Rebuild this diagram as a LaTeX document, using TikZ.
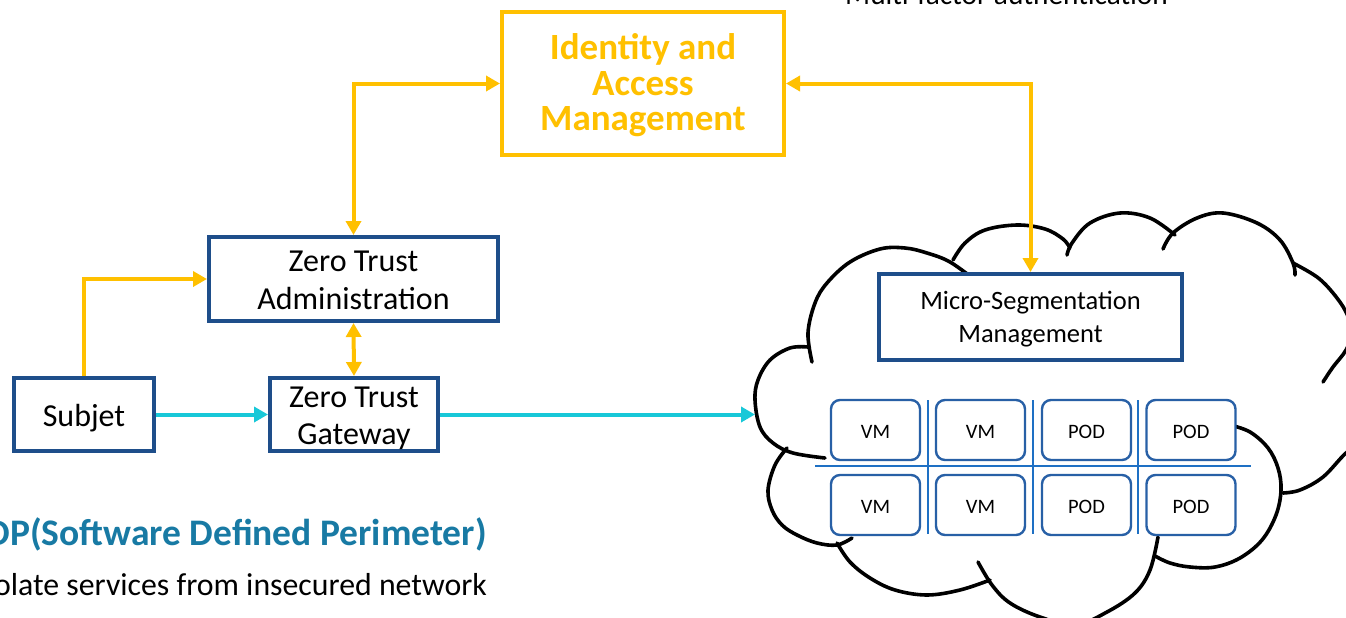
\documentclass[tikz,border=0pt]{standalone}
\usepackage{fontspec}
\setmainfont{Carlito}
\usetikzlibrary{arrows.meta}
\definecolor{gold}{RGB}{255,192,0}
\definecolor{boxblue}{RGB}{30,78,138}
\definecolor{cellblue}{RGB}{40,96,166}
\definecolor{sepblue}{RGB}{30,112,196}
\definecolor{cyanline}{RGB}{24,200,216}
\definecolor{titleblue}{RGB}{24,122,164}
\begin{document}
\begin{tikzpicture}[x=1pt,y=-1pt,
  bluebox/.style={draw=boxblue, line width=4pt, fill=white, inner sep=0pt},
  boxtext/.style={align=center, inner sep=0pt, text=black, yshift=-2.5pt},
  cell/.style={draw=cellblue, line width=2.4pt, rounded corners=9pt, fill=white, minimum width=89pt, minimum height=60pt, inner sep=0pt},
  celltext/.style={inner sep=0pt, text=black, yshift=-1.5pt, font=\fontsize{20.5}{24}\selectfont},
  goldone/.style={draw=gold, line width=4pt, -{Triangle[length=14pt,width=15pt]}},
  goldtwo/.style={draw=gold, line width=4pt, {Triangle[length=14pt,width=15pt]}-{Triangle[length=14pt,width=15pt]}},
  cyanone/.style={draw=cyanline, line width=4pt, -{Triangle[length=14pt,width=15pt]}},
  cloudline/.style={draw=black, line width=3.6pt, line cap=round},
  sepline/.style={draw=sepblue, line width=2.2pt},
  plain/.style={inner sep=0pt, text=black}
]
\useasboundingbox (0,0) rectangle (1346,618);
\clip (0,0) rectangle (1346,618);
\fill[white] (0,0) rectangle (1346,618);

% cloud bumps
\draw[cloudline] plot[smooth, tension=0.6] coordinates {(812,362) (808,333) (815,303) (827,283) (850,262) (880,249) (905,248) (927,253) (950,262) (975,280)};
\draw[cloudline] plot[smooth, tension=0.6] coordinates {(808,347) (790,348) (770,360) (758,380) (755,400) (760,427) (773,443) (793,453) (825,458)};
\draw[cloudline] plot[smooth, tension=0.6] coordinates {(787,448) (775,465) (768,490) (772,510) (782,525) (797,535) (817,543) (837,545) (852,538)};
\draw[cloudline] plot[smooth, tension=0.6] coordinates {(837,543) (850,562) (870,578) (895,590) (927,595) (960,590) (990,580)};
\draw[cloudline] plot[smooth, tension=0.6] coordinates {(978,562) (992,585) (1010,603) (1040,617) (1075,625) (1107,612) (1135,593) (1150,570) (1158,537)};
\draw[cloudline] plot[smooth, tension=0.6] coordinates {(1230,425) (1250,432) (1268,448) (1278,468) (1281,490) (1276,515) (1262,540) (1240,558) (1215,567) (1190,567) (1170,563) (1155,556)};
\draw[cloudline] plot[smooth, tension=0.6] coordinates {(1365,440) (1346,453) (1323,477) (1300,490) (1283,493)};
\draw[cloudline] plot[smooth, tension=0.6] coordinates {(1293,263) (1317,277) (1333,293) (1346,312) (1352,332) (1346,350) (1333,367) (1323,382)};
\draw[cloudline] plot[smooth, tension=0.6] coordinates {(1163,249) (1173,233) (1197,218) (1223,213) (1257,223) (1280,240) (1293,263) (1295,275)};
\draw[cloudline] plot[smooth, tension=0.6] coordinates {(1067,255) (1072,243) (1090,223) (1120,213) (1150,218) (1175,235)};
\draw[cloudline] plot[smooth, tension=0.6] coordinates {(953,260) (965,243) (985,230) (1017,225) (1045,229) (1063,239) (1070,248)};

% boxes
\node[draw=gold, line width=4pt, fill=white, minimum width=282pt, minimum height=143pt, inner sep=0pt,
  label={[boxtext, yshift=0.5pt, text=gold, font=\bfseries\fontsize{37}{35.5}\selectfont]center:{Identity and\\Access\\Management}}] (iam) at (643,83.5) {};
\node[bluebox, minimum width=289pt, minimum height=84pt,
  label={[boxtext, yshift=1pt, font=\fontsize{32}{38}\selectfont]center:{Zero Trust\\Administration}}] (zta) at (353.5,279) {};
\node[bluebox, minimum width=140pt, minimum height=73pt,
  label={[boxtext, yshift=-1pt, font=\fontsize{32}{38}\selectfont]center:{Subjet}}] (subj) at (84,414.5) {};
\node[bluebox, minimum width=168pt, minimum height=73pt,
  label={[boxtext, yshift=-1pt, font=\fontsize{32}{37}\selectfont]center:{Zero Trust\\Gateway}}] (ztg) at (354,414.5) {};
\node[bluebox, minimum width=303pt, minimum height=86pt,
  label={[boxtext, font=\fontsize{26.5}{33}\selectfont]center:{Micro-Segmentation\\Management}}] (msm) at (1030.5,317) {};

% grid of VM / POD
\draw[sepline] (815,466) -- (1251,466);
\draw[sepline] (928,400) -- (928,534);
\draw[sepline] (1033,400) -- (1033,534);
\draw[sepline] (1138,400) -- (1138,534);
\node[cell, label={[celltext]center:VM}] (vm1) at (875.5,430) {};
\node[cell, label={[celltext]center:VM}] (vm2) at (980.5,430) {};
\node[cell, label={[celltext]center:POD}] (pod1) at (1086.5,430) {};
\node[cell, label={[celltext]center:POD}] (pod2) at (1191,430) {};
\node[cell, label={[celltext]center:VM}] (vm3) at (875.5,505) {};
\node[cell, label={[celltext]center:VM}] (vm4) at (980.5,505) {};
\node[cell, label={[celltext]center:POD}] (pod3) at (1086.5,505) {};
\node[cell, label={[celltext]center:POD}] (pod4) at (1191,505) {};

% connectors
\coordinate (cloudin) at (755,414.5);
\draw[goldtwo] (zta.north) |- (iam.west);
\draw[goldtwo] (iam.east) -| (msm.north);
\draw[goldtwo] (zta.south) -- (ztg.north);
\draw[goldone] (subj.north) |- (zta.west);
\draw[cyanone] (subj.east) -- (ztg.west);
\draw[cyanone] (ztg.east) -- (cloudin);

% texts
\node[plain, anchor=base, font=\fontsize{29.3}{35}\selectfont] (mfa) at (1006.5,5) {Multi-factor authentication};
\node[plain, anchor=base east, text=titleblue, font=\bfseries\fontsize{37.5}{44}\selectfont] (sdp) at (487,545) {SDP(Software Defined Perimeter)};
\node[plain, anchor=base east, font=\fontsize{31.8}{38}\selectfont] (iso) at (487,595) {Isolate services from insecured network};
\end{tikzpicture}
\end{document}
